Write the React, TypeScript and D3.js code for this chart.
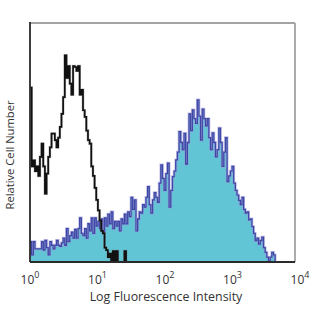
import React from 'react';
import * as d3 from 'd3';

// histogram bins are spaced evenly in log10 units, starting at 10^0
const binStep = 0.025;

// isotype control (black outline), relative cell number in % of plot height
const isotypeCounts = [
  73, 40, 42.5, 38, 40, 36, 44, 49.5, 40, 28.6, 37, 44, 48, 53.7, 53.7, 51, 48, 52, 56.5, 62,
  69, 86.5, 77, 82, 74.6, 70, 82, 81.6, 80, 82, 70, 72, 63.5, 60.7, 55, 51, 49.5, 40, 36, 31,
  26, 21.6, 17.4, 13, 12, 6, 5, 2, 3.5, 0, 4.6, 0, 4.6, 0, 0, 0, 0, 4.6, 0, 0,
];

// stained sample (cyan fill, blue outline)
const stainedCounts = [
  8.5, 3, 8.5, 5.5, 5.5, 5.5, 5.5, 8.5, 5, 9, 6, 3, 8.5, 7, 5.5, 7, 9, 7, 6.5, 8,
  10, 7, 14, 8.5, 11, 12.5, 10, 13.6, 10, 14, 18.4, 12, 11, 14, 10, 16, 13, 18.4, 12, 18.4,
  15, 17, 14, 18, 12.5, 18.4, 15, 20, 16, 21, 14, 17, 15, 17, 13, 18, 16, 20, 16, 21,
  19, 27, 22, 26, 13, 18, 21, 20.5, 24, 23, 27, 31.5, 24, 20.5, 26, 29, 27, 25, 33, 40.6,
  35, 30, 37, 41.4, 23, 30, 35.7, 38, 42.7, 46, 54.5, 50, 47, 53.8, 41, 50, 62, 55, 63.6, 60,
  58, 67.8, 61, 51, 64, 60, 57, 60, 52, 47, 54, 50, 44, 47, 56, 50, 40, 46, 52, 33.6,
  36, 38, 40, 33, 30, 28, 25.8, 24, 27, 22, 20.5, 21, 17.6, 18, 14.8, 12, 9, 10, 7.5, 9,
  10.4, 6, 4, 2, 0.4, 2, 4, 3, 0,
];

const decades = [0, 1, 2, 3, 4];

const W = 312;
const H = 312;
const left = 30;
const right = 295;
const top = 23;
const bottom = 262;

const App: React.FC = () => {
  const x = d3.scaleLog().domain([1, 1e4]).range([left, right]);
  // tick labels sit slightly wider apart than the plot frame in the original
  const xLabel = x.copy().range([30, 300]);
  const y = d3.scaleLinear().domain([0, 100]).range([bottom, top]);

  const binX = (i: number) => x(Math.pow(10, i * binStep));

  const area = d3.area<number>()
    .x((_, i) => binX(i))
    .y0(y(0))
    .y1(d => y(d))
    .curve(d3.curveStepAfter);

  const line = d3.line<number>()
    .x((_, i) => binX(i))
    .y(d => y(d))
    .curve(d3.curveStepAfter);

  return (
    <svg
      width={W}
      height={H}
      style={{ position: 'absolute', left: 0, top: 0, background: '#fff' }}
    >
      <defs>
        <clipPath id="plot">
          <rect x={left} y={top} width={right - left} height={bottom - top} />
        </clipPath>
      </defs>

      <g clipPath="url(#plot)">
        <path d={area(stainedCounts) ?? ''} fill="#62c5d5" />
        <path d={line(stainedCounts) ?? ''} fill="none" stroke="#9a98d8" strokeWidth={2.8} strokeOpacity={0.6} />
        <path d={line(stainedCounts) ?? ''} fill="none" stroke="#3f46a6" strokeWidth={1.3} />
        <path d={line(isotypeCounts) ?? ''} fill="none" stroke="#777" strokeWidth={2.6} strokeOpacity={0.5} />
        <path d={line(isotypeCounts) ?? ''} fill="none" stroke="#111" strokeWidth={1.7} />
      </g>

      {/* frame */}
      <line x1={left} x2={right} y1={top} y2={top} stroke="#a3a3a3" strokeWidth={1.8} />
      <line x1={right} x2={right} y1={top} y2={bottom} stroke="#a3a3a3" strokeWidth={1.8} />
      <line x1={left} x2={left} y1={top - 1} y2={bottom} stroke="#2a2a2a" strokeWidth={1.8} />
      <line x1={left} x2={right} y1={bottom} y2={bottom} stroke="#2a2a2a" strokeWidth={1.8} />

      {/* x tick labels */}
      {decades.map(d => (
        <text
          key={d}
          x={xLabel(Math.pow(10, d))}
          y={284}
          textAnchor="middle"
          fontFamily="'Open Sans', sans-serif"
          fontSize={12}
          fill="#333"
        >
          10<tspan dy={-6} fontSize={9}>{d}</tspan>
        </text>
      ))}

      <text
        x={166}
        y={301}
        textAnchor="middle"
        fontFamily="'Open Sans', sans-serif"
        fontSize={12.4}
        fill="#333"
      >
        Log Fluorescence Intensity
      </text>

      <text
        transform="translate(13.5,155) rotate(-90)"
        textAnchor="middle"
        fontFamily="'Open Sans', sans-serif"
        fontSize={11.2}
        fill="#333"
      >
        Relative Cell Number
      </text>
    </svg>
  );
};

export default App;
